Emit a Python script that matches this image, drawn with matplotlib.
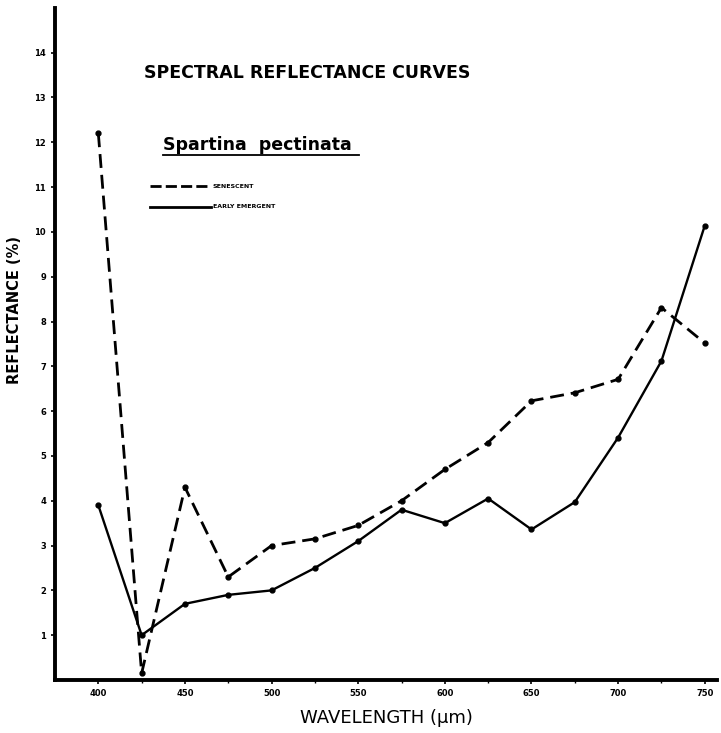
import numpy as np
import matplotlib
matplotlib.use('Agg')
import matplotlib.pyplot as plt
from matplotlib.lines import Line2D

#%% datos
longitud_onda = [400, 425, 450, 475, 500, 525, 550, 575, 600, 625, 650, 675, 700, 725, 750]
senescente = [12.2, 0.15, 4.3, 2.3, 3.0, 3.15, 3.45, 4.0, 4.7, 5.3, 6.23, 6.41, 6.71, 8.31, 7.52]
emergente = [3.9, 1.0, 1.7, 1.9, 2.0, 2.5, 3.1, 3.8, 3.5, 4.05, 3.36, 3.97, 5.41, 7.12, 10.14]

ticks_x = [400, 450, 500, 550, 600, 650, 700, 750]
ticks_y = list(range(1, 15))

#%% figura
fig = plt.figure(figsize=(7.21, 7.33), dpi=100)
ax = fig.add_axes([0.0763, 0.0723, 0.918, 0.917])

ax.plot(longitud_onda, senescente, c='black', lw=2.0, ls=(0, (5, 2.5)),
        marker='o', ms=3.5)
ax.plot(longitud_onda, emergente, c='black', lw=1.7, ls='-',
        marker='o', ms=3.5)

ax.set_xlim(375, 757)
ax.set_ylim(0, 15)
ax.set_xticks(ticks_x)
ax.set_yticks(ticks_y)
ax.set_xticks([425, 475, 525, 575, 625, 675, 725], minor=True)
ax.tick_params(axis='both', which='major', labelsize=6, length=3, width=1.2, direction='out')
ax.tick_params(axis='both', which='minor', length=2, width=1)
for lab in ax.get_xticklabels() + ax.get_yticklabels():
    lab.set_fontweight('bold')

for lado in ['top', 'right']:
    ax.spines[lado].set_visible(False)
for lado in ['left', 'bottom']:
    ax.spines[lado].set_linewidth(2.8)

ax.set_xlabel('WAVELENGTH (µm)', fontsize=13, labelpad=8)
ax.set_ylabel('REFLECTANCE (%)', fontsize=10.5, fontweight='bold')
ax.yaxis.set_label_coords(-0.05, 0.55)

# titulos
fig.text(0.2, 0.9, 'SPECTRAL REFLECTANCE CURVES', fontsize=12.5, fontweight='bold',
         ha='left', va='center')
t = fig.text(0.226, 0.802, 'Spartina  pectinata', fontsize=12.5, fontweight='bold',
             ha='left', va='center')
fig.add_artist(Line2D([0.226, 0.498], [0.788, 0.788], color='black', lw=1.3))

# leyenda a mano
fig.add_artist(Line2D([0.208, 0.292], [0.746, 0.746], color='black', lw=2.0, ls=(0, (4, 1.5))))
fig.add_artist(Line2D([0.208, 0.292], [0.718, 0.718], color='black', lw=2.0))
fig.text(0.295, 0.746, 'SENESCENT', fontsize=4.5, fontweight='bold', va='center')
fig.text(0.295, 0.718, 'EARLY EMERGENT', fontsize=4.5, fontweight='bold', va='center')

plt.savefig('out.png', dpi=100)
